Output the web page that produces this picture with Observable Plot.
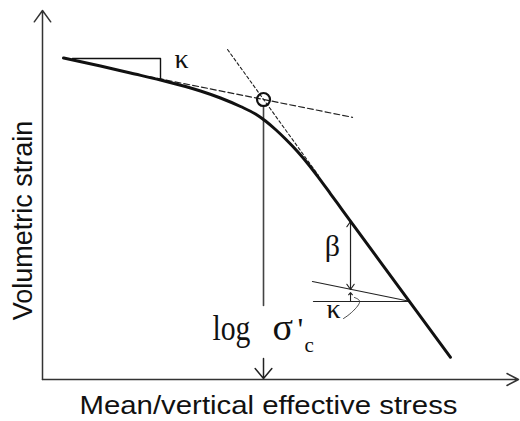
<!DOCTYPE html>
<html>
<head>
<meta charset="utf-8">
<script src="https://cdn.jsdelivr.net/npm/d3@7"></script>
<script src="https://cdn.jsdelivr.net/npm/@observablehq/plot@0.6"></script>
<style>
  body { margin: 0; background: #fff; }
  svg { display: block; }
</style>
</head>
<body>
<div id="chart"></div>
<script>
// Schematic compression curve: volumetric strain against log of effective stress.
// Units are arbitrary: both axes run 0..10.

// Compression curve (x = log stress, y = strain)
const curveX = [0.441, 1.218, 1.849, 2.479, 3.004, 3.319, 3.739, 4.160, 4.475, 4.685,
                4.895, 5.105, 5.357, 5.588, 5.777, 6.050, 6.303, 7.437, 8.571];
const curveY = [8.713, 8.496, 8.306, 8.117, 7.940, 7.818, 7.629, 7.398, 7.195, 7.005,
                6.775, 6.518, 6.179, 5.827, 5.512, 5.033, 4.585, 2.593, 0.602];

// Yield point (preconsolidation stress) where the two tangents cross
const yieldX = 4.643;
const yieldY = 7.588;

// Tangent to the recompression branch (slope kappa)
const kappaTangentX = [2.227, 6.513];
const kappaTangentY = [8.211, 7.106];

// Tangent to the virgin compression branch
const steepTangentX = [3.887, 5.798];
const steepTangentY = [8.943, 5.528];

// Slope triangle for kappa on the recompression branch
const kappaTriangleX = [0.630, 2.479, 2.479];
const kappaTriangleY = [8.699, 8.699, 8.117];

// Drop line from the yield point to the stress axis (broken around the label)
const dropTopY = [7.425, 2.005];
const axisY = 0.027;

// Beta: vertical offset between the curve and the unloading line
const betaX = 6.471;
const betaTopY = 4.282;
const betaMidY = 3.360;
const betaBottomY = 2.439;
const kappaGapY = [2.114, 2.358];

// Unloading line with slope kappa and its horizontal reference
const unloadX = [5.672, 7.731];
const unloadY = [2.656, 2.114];
const refLineX = [5.693, 7.731];
const refLineY = [2.114, 2.114];

// Leader from the lower kappa label to the angle
const leaderX = [6.555, 6.660, 6.492, 6.324];
const leaderY = [2.222, 2.087, 1.816, 1.653];

// Axis extents
const axisMax = 10;

// Annotation labels (anchor in data units)
const greekLabels = [
  {x: 2.920, y: 8.455, text: "κ"},
  {x: 6.113, y: 1.680, text: "κ"}
];
const betaLabel = [{x: 6.092, y: 3.360, text: "β"}];
const logLabel = [{x: 3.571, y: 1.057, text: "log"}];
const sigmaLabel = [{x: 4.832, y: 1.057, text: "σ"}];
const primeLabel = [{x: 5.357, y: 1.057, text: "'"}];
const subLabel = [{x: 5.504, y: 0.732, text: "c"}];

// Axis titles; the strain title is centred beside the vertical axis
const yTitle = [{x: -0.22, y: 4.31, text: "Volumetric strain"}];
const xTitle = "Mean/vertical effective stress";

const pts = (xs, ys) => xs.map((x, i) => ({x, y: ys[i]}));

const serif = "'Liberation Serif', 'Times New Roman', serif";
const sans = "'Liberation Sans', Arial, sans-serif";

const chart = Plot.plot({
  width: 520,
  height: 421,
  marginLeft: 42,
  marginRight: 2,
  marginTop: 10,
  marginBottom: 42,
  x: {domain: [0, axisMax], axis: null},
  y: {domain: [0, axisMax], axis: null},
  style: {background: "#fff", fontFamily: sans, overflow: "visible"},
  marks: [
    // axes with arrowheads
    Plot.arrow([{x1: 0, y1: 0, x2: 0, y2: axisMax}], {
      x1: "x1", y1: "y1", x2: "x2", y2: "y2",
      stroke: "#333", strokeWidth: 1.5, headLength: 14, headAngle: 72
    }),
    Plot.arrow([{x1: 0, y1: 0, x2: axisMax, y2: 0}], {
      x1: "x1", y1: "y1", x2: "x2", y2: "y2",
      stroke: "#333", strokeWidth: 1.5, headLength: 13, headAngle: 55
    }),

    // tangents
    Plot.line(pts(kappaTangentX, kappaTangentY), {
      x: "x", y: "y", stroke: "#222", strokeWidth: 1.2, strokeDasharray: "6,3"
    }),
    Plot.line(pts(steepTangentX, steepTangentY), {
      x: "x", y: "y", stroke: "#222", strokeWidth: 1.1, strokeDasharray: "3,2.5"
    }),

    // kappa slope triangle
    Plot.line(pts(kappaTriangleX, kappaTriangleY), {
      x: "x", y: "y", stroke: "#111", strokeWidth: 1.4
    }),

    // drop line from the yield point
    Plot.line(pts([yieldX, yieldX], dropTopY), {
      x: "x", y: "y", stroke: "#444", strokeWidth: 1.6
    }),
    Plot.arrow([{x1: yieldX, y1: yieldY, x2: yieldX, y2: axisY}], {
      x1: "x1", y1: "y1", x2: "x2", y2: "y2",
      insetStart: 259, stroke: "#222", strokeWidth: 1.5, headLength: 13, headAngle: 80
    }),

    // unloading line and its horizontal reference
    Plot.line(pts(unloadX, unloadY), {x: "x", y: "y", stroke: "#222", strokeWidth: 1.2}),
    Plot.line(pts(refLineX, refLineY), {x: "x", y: "y", stroke: "#222", strokeWidth: 1.2}),

    // beta double arrow and the small kappa gap arrow
    Plot.arrow([
      {x1: betaX, y1: betaMidY, x2: betaX, y2: betaTopY},
      {x1: betaX, y1: betaMidY, x2: betaX, y2: betaBottomY}
    ], {
      x1: "x1", y1: "y1", x2: "x2", y2: "y2",
      stroke: "#222", strokeWidth: 1.2, headLength: 8, headAngle: 70
    }),
    Plot.arrow([{x1: betaX, y1: kappaGapY[0], x2: betaX, y2: kappaGapY[1]}], {
      x1: "x1", y1: "y1", x2: "x2", y2: "y2",
      stroke: "#222", strokeWidth: 1.1, headLength: 6, headAngle: 80
    }),

    // leader for the lower kappa
    Plot.line(pts(leaderX, leaderY), {
      x: "x", y: "y", curve: "natural", stroke: "#333", strokeWidth: 0.9
    }),

    // compression curve
    Plot.line(pts(curveX, curveY), {
      x: "x", y: "y", curve: "monotone-x", stroke: "#111", strokeWidth: 3
    }),

    // yield point marker
    Plot.dot([{x: yieldX, y: yieldY}], {
      x: "x", y: "y", r: 6.5, fill: "none", stroke: "#111", strokeWidth: 2.2
    }),

    // annotation text
    Plot.text(greekLabels, {
      x: "x", y: "y", text: "text", fontFamily: serif, fontSize: 28,
      lineAnchor: "bottom", fill: "#111"
    }),
    Plot.text(betaLabel, {
      x: "x", y: "y", text: "text", fontFamily: serif, fontSize: 30,
      lineAnchor: "bottom", fill: "#111"
    }),
    Plot.text(logLabel, {
      x: "x", y: "y", text: "text", fontFamily: serif, fontSize: 36,
      textAnchor: "start", lineAnchor: "bottom", fill: "#111"
    }),
    Plot.text(sigmaLabel, {
      x: "x", y: "y", text: "text", fontFamily: serif, fontSize: 38,
      textAnchor: "start", lineAnchor: "bottom", fill: "#111"
    }),
    Plot.text(primeLabel, {
      x: "x", y: "y", text: "text", fontFamily: serif, fontSize: 32,
      textAnchor: "start", lineAnchor: "bottom", fill: "#111"
    }),
    Plot.text(subLabel, {
      x: "x", y: "y", text: "text", fontFamily: serif, fontSize: 21,
      textAnchor: "start", lineAnchor: "bottom", fill: "#111"
    }),

    // axis titles
    Plot.text(yTitle, {
      x: "x", y: "y", text: "text", rotate: -90,
      lineAnchor: "bottom", fontSize: 27, fill: "#111"
    }),
    Plot.text([xTitle], {
      frameAnchor: "bottom", dx: -12, dy: 34,
      lineAnchor: "bottom", fontSize: 26, fill: "#111"
    })
  ]
});

// the stress title and the "log" label are set to their drawn widths
for (const t of chart.querySelectorAll("text")) {
  if (t.textContent === xTitle) {
    t.setAttribute("textLength", 378);
    t.setAttribute("lengthAdjust", "spacingAndGlyphs");
  }
  if (t.textContent === "log") {
    t.setAttribute("textLength", 38);
    t.setAttribute("lengthAdjust", "spacingAndGlyphs");
  }
}

document.getElementById("chart").appendChild(chart);
</script>
</body>
</html>
